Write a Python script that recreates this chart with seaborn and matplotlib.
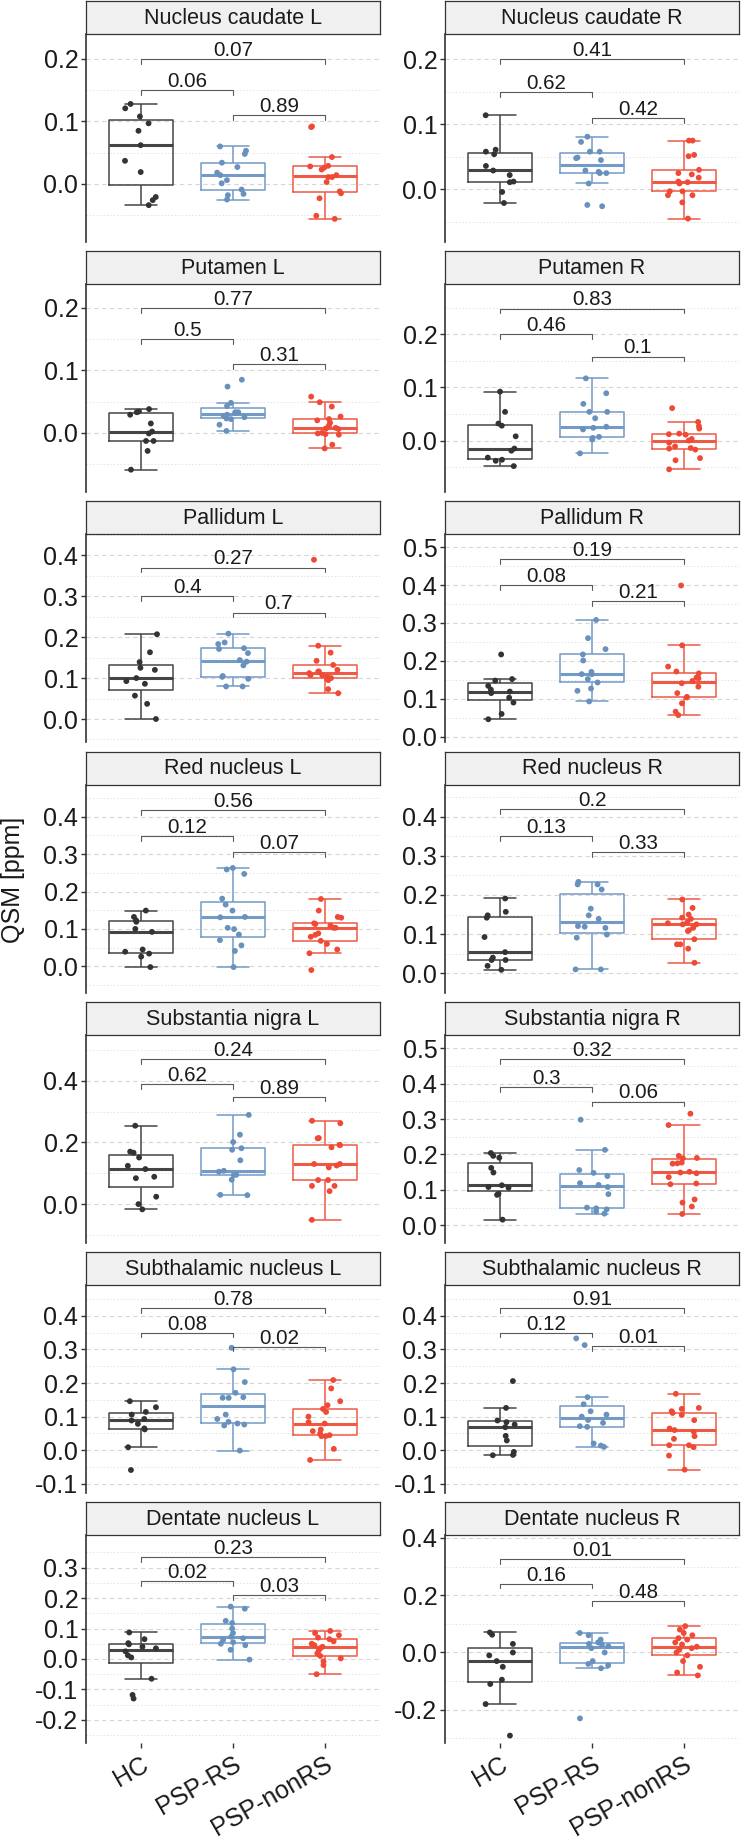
import numpy as np
import pandas as pd
import matplotlib
matplotlib.use("Agg")
import matplotlib.pyplot as plt
import seaborn as sns

np.random.seed(11)

# ---------------- data ----------------
groups = ["HC", "PSP-RS", "PSP-nonRS"]
regions = ["Nucleus caudate L", "Nucleus caudate R", "Putamen L", "Putamen R",
           "Pallidum L", "Pallidum R", "Red nucleus L", "Red nucleus R",
           "Substantia nigra L", "Substantia nigra R", "Subthalamic nucleus L",
           "Subthalamic nucleus R", "Dentate nucleus L", "Dentate nucleus R"]

nc_l_hc = [0.128, 0.121, 0.108, 0.097, 0.085, 0.062, 0.037, 0.019, -0.021, -0.026, -0.034]
nc_l_rs = [0.060, 0.053, 0.048, 0.034, 0.027, 0.018, 0.014, 0.006, 0.001, -0.009, -0.016, -0.018, -0.025]
nc_l_nrs = [0.092, 0.091, 0.043, 0.029, 0.028, 0.026, 0.023, 0.014, 0.011, 0.011, 0.003, -0.012, -0.015, -0.023, -0.051, -0.056]

nc_r_hc = [0.114, 0.061, 0.058, 0.054, 0.036, 0.029, 0.022, 0.012, 0.011, -0.004, -0.021]
nc_r_rs = [0.081, 0.073, 0.058, 0.058, 0.049, 0.048, 0.045, 0.029, 0.027, 0.025, 0.025, 0.009, -0.024, -0.026]
nc_r_nrs = [0.075, 0.075, 0.053, 0.051, 0.030, 0.025, 0.023, 0.018, 0.012, 0.011, 0.009, -0.003, -0.003, -0.009, -0.009, -0.020, -0.045]

pu_l_hc = [0.038, 0.034, 0.033, 0.029, 0.015, 0.002, -0.001, -0.013, -0.013, -0.029, -0.059]
pu_l_rs = [0.085, 0.074, 0.048, 0.043, 0.033, 0.033, 0.032, 0.029, 0.027, 0.025, 0.023, 0.022, 0.013, 0.003]
pu_l_nrs = [0.058, 0.049, 0.042, 0.026, 0.022, 0.020, 0.016, 0.012, 0.008, 0.007, 0.006, 0.0, -0.001, -0.002, -0.003, -0.019, -0.025]

pu_r_hc = [0.092, 0.054, 0.032, 0.028, 0.008, -0.015, -0.019, -0.032, -0.036, -0.038, -0.048]
pu_r_rs = [0.117, 0.089, 0.069, 0.054, 0.054, 0.042, 0.026, 0.024, 0.021, 0.007, 0.005, 0.002, -0.024]
pu_r_nrs = [0.061, 0.035, 0.027, 0.0225, 0.013, 0.012, 0.011, 0.003, 0.0, -0.004, -0.011, -0.014, -0.015, -0.017, -0.033, -0.037, -0.054]

pa_l_hc = [0.207, 0.163, 0.139, 0.125, 0.120, 0.100, 0.0925, 0.086, 0.057, 0.037, 0.0]
pa_l_rs = [0.2085, 0.187, 0.183, 0.173, 0.171, 0.161, 0.144, 0.140, 0.131, 0.105, 0.103, 0.098, 0.0795, 0.0795]
pa_l_nrs = [0.389, 0.179, 0.162, 0.142, 0.132, 0.120, 0.116, 0.116, 0.112, 0.107, 0.107, 0.103, 0.100, 0.097, 0.095, 0.073, 0.063]

pa_r_hc = [0.217, 0.152, 0.148, 0.134, 0.124, 0.119, 0.115, 0.103, 0.090, 0.060, 0.046]
pa_r_rs = [0.308, 0.260, 0.231, 0.217, 0.201, 0.171, 0.165, 0.165, 0.152, 0.143, 0.127, 0.121, 0.093]
pa_r_nrs = [0.399, 0.241, 0.185, 0.172, 0.167, 0.156, 0.154, 0.147, 0.141, 0.132, 0.115, 0.105, 0.1035, 0.088, 0.066, 0.057]

rn_l_hc = [0.149, 0.132, 0.123, 0.119, 0.100, 0.092, 0.045, 0.039, 0.034, 0.026, -0.002]
rn_l_rs = [0.263, 0.259, 0.247, 0.181, 0.165, 0.149, 0.132, 0.131, 0.103, 0.0995, 0.085, 0.070, 0.056, 0.041, -0.002]
rn_l_nrs = [0.180, 0.149, 0.132, 0.130, 0.115, 0.113, 0.109, 0.103, 0.103, 0.088, 0.084, 0.079, 0.068, 0.060, 0.045, 0.035, -0.010]

rn_r_hc = [0.191, 0.157, 0.148, 0.142, 0.0926, 0.054, 0.040, 0.034, 0.034, 0.019, 0.009]
rn_r_rs = [0.2335, 0.227, 0.227, 0.214, 0.165, 0.148, 0.139, 0.1206, 0.119, 0.116, 0.099, 0.091, 0.010, 0.010]
rn_r_nrs = [0.1885, 0.167, 0.150, 0.142, 0.139, 0.131, 0.128, 0.125, 0.125, 0.116, 0.110, 0.108, 0.087, 0.074, 0.074, 0.063, 0.027]

sn_l_hc = [0.254, 0.170, 0.1665, 0.151, 0.124, 0.1135, 0.0886, 0.084, 0.024, 0.0, -0.017]
sn_l_rs = [0.289, 0.225, 0.201, 0.181, 0.176, 0.142, 0.108, 0.105, 0.095, 0.094, 0.079, 0.030, 0.029]
sn_l_nrs = [0.270, 0.262, 0.214, 0.213, 0.192, 0.191, 0.184, 0.130, 0.130, 0.125, 0.119, 0.078, 0.078, 0.059, 0.059, 0.042, -0.051]

sn_r_hc = [0.204, 0.196, 0.191, 0.162, 0.149, 0.113, 0.108, 0.106, 0.089, 0.086, 0.016]
sn_r_rs = [0.298, 0.213, 0.156, 0.148, 0.139, 0.119, 0.114, 0.108, 0.088, 0.050, 0.048, 0.045, 0.039, 0.033]
sn_r_nrs = [0.315, 0.283, 0.196, 0.190, 0.189, 0.177, 0.175, 0.174, 0.151, 0.149, 0.147, 0.136, 0.118, 0.116, 0.073, 0.064, 0.053, 0.032]

st_l_hc = [0.146, 0.128, 0.114, 0.106, 0.093, 0.0885, 0.0785, 0.065, 0.062, 0.009, -0.059]
st_l_rs = [0.305, 0.241, 0.203, 0.171, 0.158, 0.156, 0.156, 0.106, 0.093, 0.0845, 0.0795, 0.0765, 0.0736, -0.001]
st_l_nrs = [0.209, 0.184, 0.146, 0.134, 0.123, 0.114, 0.100, 0.0835, 0.0795, 0.0616, 0.0567, 0.0497, 0.0447, 0.042, 0.042, 0.004, -0.029]

st_r_hc = [0.206, 0.126, 0.0885, 0.0835, 0.0765, 0.0686, 0.0427, 0.029, -0.005, -0.014, -0.015]
st_r_rs = [0.333, 0.313, 0.158, 0.137, 0.116, 0.106, 0.100, 0.090, 0.0815, 0.0716, 0.0696, 0.020, 0.0139, 0.0099]
st_r_nrs = [0.168, 0.126, 0.123, 0.116, 0.111, 0.105, 0.0895, 0.0646, 0.060, 0.0547, 0.0417, 0.0338, 0.0149, 0.0149, 0.0089, -0.016, -0.058]

dn_l_hc = [0.087, 0.065, 0.052, 0.048, 0.040, 0.035, 0.025, 0.012, 0.005, -0.065, -0.118, -0.130]
dn_l_rs = [0.172, 0.165, 0.125, 0.118, 0.100, 0.085, 0.073, 0.068, 0.062, 0.055, 0.050, 0.045, 0.030, -0.002]
dn_l_nrs = [0.092, 0.085, 0.078, 0.070, 0.065, 0.058, 0.050, 0.045, 0.040, 0.035, 0.028, 0.018, 0.010, 0.002, -0.008, -0.020, -0.050]

dn_r_hc = [0.070, 0.062, 0.030, 0.0, -0.010, -0.030, -0.050, -0.095, -0.110, -0.180, -0.290]
dn_r_rs = [0.068, 0.060, 0.045, 0.035, 0.030, 0.028, 0.022, 0.015, 0.0, -0.030, -0.040, -0.045, -0.055, -0.230]
dn_r_nrs = [0.092, 0.080, 0.068, 0.060, 0.050, 0.045, 0.035, 0.028, 0.020, 0.015, 0.010, 0.0, -0.010, -0.030, -0.050, -0.070, -0.080]

# p-values: HC vs PSP-RS, PSP-RS vs PSP-nonRS, HC vs PSP-nonRS
p_hc_rs = ["0.06", "0.62", "0.5", "0.46", "0.4", "0.08", "0.12", "0.13", "0.62", "0.3", "0.08", "0.12", "0.02", "0.16"]
p_rs_nrs = ["0.89", "0.42", "0.31", "0.1", "0.7", "0.21", "0.07", "0.33", "0.89", "0.06", "0.02", "0.01", "0.03", "0.48"]
p_hc_nrs = ["0.07", "0.41", "0.77", "0.83", "0.27", "0.19", "0.56", "0.2", "0.24", "0.32", "0.78", "0.91", "0.23", "0.01"]

# ---------------- layout (positions, limits) ----------------
br_hc_rs = [0.15, 0.15, 0.15, 0.20, 0.30, 0.40, 0.348, 0.35, 0.389, 0.389, 0.35, 0.35, 0.255, 0.24]
br_rs_nrs = [0.11, 0.11, 0.11, 0.158, 0.26, 0.358, 0.306, 0.31, 0.348, 0.349, 0.308, 0.31, 0.21, 0.18]
br_hc_nrs = [0.20, 0.20, 0.20, 0.248, 0.37, 0.468, 0.418, 0.419, 0.470, 0.469, 0.4225, 0.4225, 0.335, 0.325]

ylims = [(-0.093, 0.240), (-0.081, 0.239), (-0.095, 0.238), (-0.097, 0.294),
         (-0.057, 0.451), (-0.015, 0.534), (-0.070, 0.486), (-0.049, 0.482),
         (-0.125, 0.549), (-0.049, 0.538), (-0.127, 0.4925), (-0.127, 0.4925),
         (-0.276, 0.407), (-0.316, 0.410)]
majors = [[0.0, 0.1, 0.2], [0.0, 0.1, 0.2], [0.0, 0.1, 0.2], [0.0, 0.1, 0.2],
          [0.0, 0.1, 0.2, 0.3, 0.4], [0.0, 0.1, 0.2, 0.3, 0.4, 0.5],
          [0.0, 0.1, 0.2, 0.3, 0.4], [0.0, 0.1, 0.2, 0.3, 0.4],
          [0.0, 0.2, 0.4], [0.0, 0.1, 0.2, 0.3, 0.4, 0.5],
          [-0.1, 0.0, 0.1, 0.2, 0.3, 0.4], [-0.1, 0.0, 0.1, 0.2, 0.3, 0.4],
          [-0.2, -0.1, 0.0, 0.1, 0.2, 0.3], [-0.2, 0.0, 0.2, 0.4]]

data_sets = [
    (nc_l_hc, nc_l_rs, nc_l_nrs), (nc_r_hc, nc_r_rs, nc_r_nrs),
    (pu_l_hc, pu_l_rs, pu_l_nrs), (pu_r_hc, pu_r_rs, pu_r_nrs),
    (pa_l_hc, pa_l_rs, pa_l_nrs), (pa_r_hc, pa_r_rs, pa_r_nrs),
    (rn_l_hc, rn_l_rs, rn_l_nrs), (rn_r_hc, rn_r_rs, rn_r_nrs),
    (sn_l_hc, sn_l_rs, sn_l_nrs), (sn_r_hc, sn_r_rs, sn_r_nrs),
    (st_l_hc, st_l_rs, st_l_nrs), (st_r_hc, st_r_rs, st_r_nrs),
    (dn_l_hc, dn_l_rs, dn_l_nrs), (dn_r_hc, dn_r_rs, dn_r_nrs),
]

line_pal = {"HC": "#454545", "PSP-RS": "#739bc6", "PSP-nonRS": "#ef5a46"}
pt_pal = {"HC": "#333333", "PSP-RS": "#6891bd", "PSP-nonRS": "#ee4a35"}

sns.set_theme(style="white")
plt.rcParams["font.family"] = ["Liberation Sans", "DejaVu Sans"]
plt.rcParams["axes.unicode_minus"] = False

W, H = 743, 1842
fig = plt.figure(figsize=(W / 100, H / 100), dpi=100)

col_x = [86, 445]
panel_w = 294
strip_h = 33
panel_h = 208
pitch = 250.17
txt_col = "#1a1a1a"
fs_tick = 18
fs_strip = 15.5
fs_p = 14.8


def minor_ticks(lo, hi, major):
    step = major[1] - major[0]
    vals = []
    v = major[0] - step / 2
    while v > lo:
        v -= step
    while v <= hi + 1e-9:
        if v >= lo - 1e-9:
            vals.append(round(v, 4))
        v += step
    return vals


for i, name in enumerate(regions):
    row, col = divmod(i, 2)
    strip_top = 1 + row * pitch
    ax_top = strip_top + strip_h
    ax = fig.add_axes([col_x[col] / W, 1 - (ax_top + panel_h) / H, panel_w / W, panel_h / H])
    sax = fig.add_axes([col_x[col] / W, 1 - (strip_top + strip_h) / H, panel_w / W, strip_h / H])

    # strip
    sax.set_facecolor("#F0F0F0")
    sax.set_xticks([])
    sax.set_yticks([])
    for s in sax.spines.values():
        s.set_visible(True)
        s.set_color("#333333")
        s.set_linewidth(0.9)
    sax.text(0.5, 0.47, name, ha="center", va="center", fontsize=fs_strip,
             color=txt_col, transform=sax.transAxes)

    hc, rs, nrs = data_sets[i]
    df = pd.DataFrame({
        "group": ["HC"] * len(hc) + ["PSP-RS"] * len(rs) + ["PSP-nonRS"] * len(nrs),
        "qsm": list(hc) + list(rs) + list(nrs),
    })

    sns.boxplot(data=df, x="group", y="qsm", hue="group", order=groups, hue_order=groups,
                palette=line_pal, fill=False, width=0.7, showfliers=False,
                linewidth=1.1, legend=False, medianprops={"linewidth": 2.2}, ax=ax)
    sns.stripplot(data=df, x="group", y="qsm", hue="group", order=groups, hue_order=groups,
                  palette=pt_pal, jitter=0.18, size=4.2, linewidth=0, legend=False,
                  ax=ax, zorder=3)

    lo, hi = ylims[i]
    ax.set_xlim(-0.6, 2.6)
    ax.set_ylim(lo, hi)
    mj = majors[i]
    ax.set_yticks(mj)
    ax.set_yticklabels([f"{t:.1f}" for t in mj], fontsize=fs_tick, color=txt_col)
    ax.set_yticks(minor_ticks(lo, hi, mj), minor=True)
    ax.yaxis.grid(True, which="major", color="#d6d6d6", linestyle=(0, (4, 3)), linewidth=0.8)
    ax.yaxis.grid(True, which="minor", color="#e3e3e3", linestyle=(0, (1.5, 2)), linewidth=0.7)
    ax.xaxis.grid(False)
    ax.set_axisbelow(True)
    ax.tick_params(axis="y", which="major", length=3.5, width=1.0, color="#333333", pad=2, left=True)
    ax.tick_params(axis="y", which="minor", length=0)
    for s in ["top", "right", "bottom"]:
        ax.spines[s].set_visible(False)
    ax.spines["left"].set_color("#333333")
    ax.spines["left"].set_linewidth(1.2)
    ax.set_xlabel("")
    ax.set_ylabel("")

    if row == 6:
        ax.set_xticks([0, 1, 2])
        ax.set_xticklabels(groups, rotation=30, ha="right", va="top", rotation_mode="anchor",
                           fontsize=fs_tick, color=txt_col)
        ax.tick_params(axis="x", length=3.5, width=1.0, color="#333333", bottom=True, pad=3)
    else:
        ax.tick_params(axis="x", bottom=False, labelbottom=False)

    # significance brackets
    tip = 4.7 / panel_h * (hi - lo)
    for (x1, x2, y, lab) in [(0, 1, br_hc_rs[i], p_hc_rs[i]),
                             (1, 2, br_rs_nrs[i], p_rs_nrs[i]),
                             (0, 2, br_hc_nrs[i], p_hc_nrs[i])]:
        ax.plot([x1, x1, x2, x2], [y - tip, y, y, y - tip], color="#5a5a5a",
                lw=0.8, zorder=4)
        ax.annotate(lab, xy=((x1 + x2) / 2, y), xytext=(0, 2.3), textcoords="offset points",
                    ha="center", va="baseline", fontsize=fs_p, color=txt_col, zorder=5)

fig.text(0.017, 1 - 880 / H, "QSM [ppm]", rotation=90, ha="center", va="center",
         fontsize=18, color=txt_col)

fig.savefig("out.png", dpi=100)
